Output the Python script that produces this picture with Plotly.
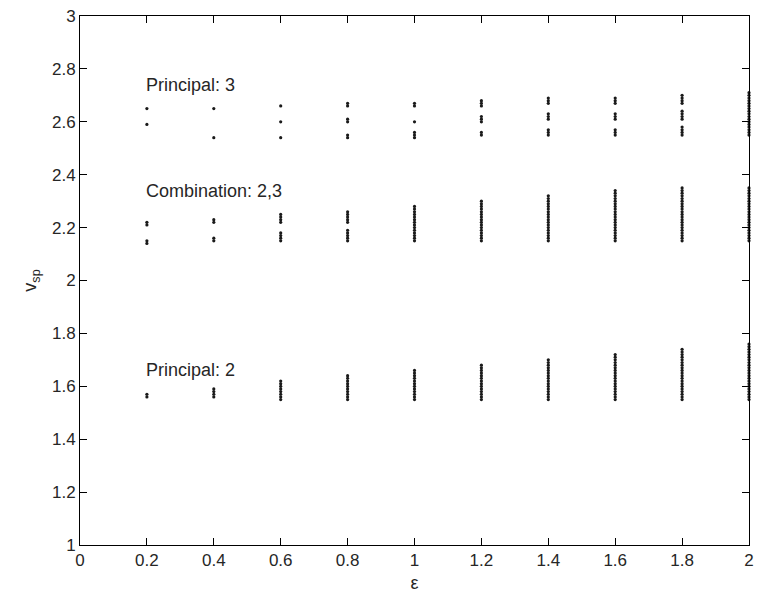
import plotly.graph_objects as go

# ---- data ----
eps_levels = [0.2, 0.4, 0.6, 0.8, 1.0, 1.2, 1.4, 1.6, 1.8, 2.0]

principal2_vals = [
    [1.56, 1.57],
    [1.56, 1.57, 1.58, 1.59],
    [1.55, 1.56, 1.57, 1.58, 1.59, 1.60, 1.61, 1.62],
    [1.55, 1.56, 1.57, 1.58, 1.59, 1.60, 1.61, 1.62, 1.63, 1.64],
    [1.55, 1.56, 1.57, 1.58, 1.59, 1.60, 1.61, 1.62, 1.63, 1.64, 1.65, 1.66],
    [1.55, 1.56, 1.57, 1.58, 1.59, 1.60, 1.61, 1.62, 1.63, 1.64, 1.65, 1.66, 1.67, 1.68],
    [1.55, 1.56, 1.57, 1.58, 1.59, 1.60, 1.61, 1.62, 1.63, 1.64, 1.65, 1.66, 1.67, 1.68, 1.69, 1.70],
    [1.55, 1.56, 1.57, 1.58, 1.59, 1.60, 1.61, 1.62, 1.63, 1.64, 1.65, 1.66, 1.67, 1.68, 1.69, 1.70,
     1.71, 1.72],
    [1.55, 1.56, 1.57, 1.58, 1.59, 1.60, 1.61, 1.62, 1.63, 1.64, 1.65, 1.66, 1.67, 1.68, 1.69, 1.70,
     1.71, 1.72, 1.73, 1.74],
    [1.55, 1.56, 1.57, 1.58, 1.59, 1.60, 1.61, 1.62, 1.63, 1.64, 1.65, 1.66, 1.67, 1.68, 1.69, 1.70,
     1.71, 1.72, 1.73, 1.74, 1.75, 1.76],
]

combination23_vals = [
    [2.14, 2.15, 2.21, 2.22],
    [2.15, 2.16, 2.22, 2.23],
    [2.15, 2.16, 2.17, 2.18, 2.22, 2.23, 2.24, 2.25],
    [2.15, 2.16, 2.17, 2.18, 2.19, 2.22, 2.23, 2.24, 2.25, 2.26],
    [2.15, 2.16, 2.17, 2.18, 2.19, 2.20, 2.21, 2.22, 2.23, 2.24, 2.25, 2.26, 2.27, 2.28],
    [2.15, 2.16, 2.17, 2.18, 2.19, 2.20, 2.21, 2.22, 2.23, 2.24, 2.25, 2.26, 2.27, 2.28, 2.29, 2.30],
    [2.15, 2.16, 2.17, 2.18, 2.19, 2.20, 2.21, 2.22, 2.23, 2.24, 2.25, 2.26, 2.27, 2.28, 2.29, 2.30,
     2.31, 2.32],
    [2.15, 2.16, 2.17, 2.18, 2.19, 2.20, 2.21, 2.22, 2.23, 2.24, 2.25, 2.26, 2.27, 2.28, 2.29, 2.30,
     2.31, 2.32, 2.33, 2.34],
    [2.15, 2.16, 2.17, 2.18, 2.19, 2.20, 2.21, 2.22, 2.23, 2.24, 2.25, 2.26, 2.27, 2.28, 2.29, 2.30,
     2.31, 2.32, 2.33, 2.34, 2.35],
    [2.15, 2.16, 2.17, 2.18, 2.19, 2.20, 2.21, 2.22, 2.23, 2.24, 2.25, 2.26, 2.27, 2.28, 2.29, 2.30,
     2.31, 2.32, 2.33, 2.34, 2.35],
]

principal3_vals = [
    [2.59, 2.65],
    [2.54, 2.65],
    [2.54, 2.60, 2.66],
    [2.54, 2.55, 2.60, 2.61, 2.66, 2.67],
    [2.54, 2.55, 2.56, 2.60, 2.66, 2.67],
    [2.55, 2.56, 2.60, 2.61, 2.62, 2.66, 2.67, 2.68],
    [2.55, 2.56, 2.57, 2.61, 2.62, 2.63, 2.67, 2.68, 2.69],
    [2.55, 2.56, 2.57, 2.61, 2.62, 2.63, 2.67, 2.68, 2.69],
    [2.55, 2.56, 2.57, 2.58, 2.61, 2.62, 2.63, 2.64, 2.67, 2.68, 2.69, 2.70],
    [2.55, 2.56, 2.57, 2.58, 2.59, 2.60, 2.61, 2.62, 2.63, 2.64, 2.65, 2.66, 2.67, 2.68, 2.69,
     2.70, 2.71],
]

labels = ["Principal: 3", "Combination: 2,3", "Principal: 2"]
label_x = [0.19, 0.19, 0.19]
label_y = [2.74, 2.34, 1.66]

x_ticks = [0, 0.2, 0.4, 0.6, 0.8, 1, 1.2, 1.4, 1.6, 1.8, 2]
y_ticks = [1, 1.2, 1.4, 1.6, 1.8, 2, 2.2, 2.4, 2.6, 2.8, 3]

FONT = "Liberation Sans, Arial, Helvetica, sans-serif"
TXT = "#262626"

fig = go.Figure()
for group in [principal2_vals, combination23_vals, principal3_vals]:
    xs, ys = [], []
    for e, vals in zip(eps_levels, group):
        xs.extend([e] * len(vals))
        ys.extend(vals)
    fig.add_trace(go.Scatter(
        x=xs, y=ys, mode="markers", cliponaxis=False, showlegend=False,
        marker=dict(size=3.2, color="#1a1a1a", line=dict(width=0)),
    ))

for t, lx, ly in zip(labels, label_x, label_y):
    fig.add_annotation(x=lx, y=ly, text=t, showarrow=False, xanchor="left",
                       yanchor="middle", font=dict(family=FONT, size=18, color=TXT))

axis_common = dict(
    showgrid=False, zeroline=False, showline=True, linecolor="#000", linewidth=1,
    mirror="allticks", ticks="inside", ticklen=7, tickcolor="#000", tickwidth=1,
    tickfont=dict(family=FONT, size=17, color=TXT),
)

fig.update_xaxes(range=[0, 2], tickvals=x_ticks, ticktext=[f"{v:g}" for v in x_ticks],
                 title=dict(text="ε", font=dict(family=FONT, size=18, color=TXT), standoff=6),
                 **axis_common)
fig.update_yaxes(range=[1, 3], tickvals=y_ticks, ticktext=[f"{v:g}" for v in y_ticks],
                 title=dict(text="v<sub>sp</sub>", font=dict(family=FONT, size=18, color=TXT),
                            standoff=10),
                 **axis_common)

fig.update_layout(
    width=761, height=597,
    margin=dict(l=80, r=7, t=13, b=52),
    plot_bgcolor="white", paper_bgcolor="white",
)

fig.write_html("out.html")
